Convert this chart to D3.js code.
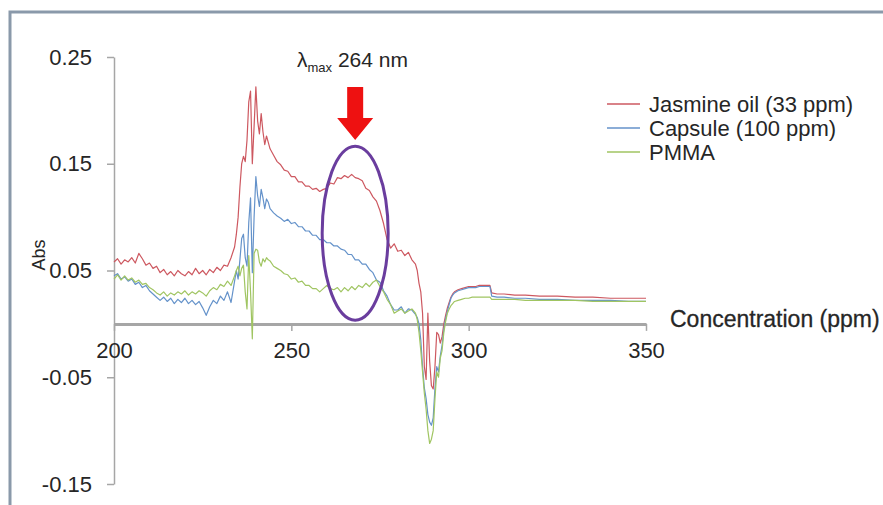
<!DOCTYPE html>
<html>
<head>
<meta charset="utf-8">
<script src="https://cdn.jsdelivr.net/npm/d3@7"></script>
<style>
  body { margin: 0; background: #fff; }
  text { font-family: "Liberation Sans", Arial, sans-serif; fill: #262626; }
</style>
</head>
<body>
<div id="chart"></div>
<script>
// Wavelength (nm) and absorbance.
var wavelength = [
  200,201,202,203,204,205,206,207,208,209,210,211,212,213,214,215,216,217,218,219,
  220,221,222,223,224,225,226,227,228,229,230,231,232,233,234,
  234.5,235,235.5,236,236.5,237,237.5,238,238.5,239,239.5,240,240.5,241,241.5,242,242.5,243,243.5,244,245,246,
  247,248,249,250,251,252,253,254,255,256,257,258,259,260,261,262,263,264,265,266,
  267,268,269,270,271,272,273,274,275,276,277,278,279,280,281,282,283,284,285,
  285.5,286,286.5,287,287.5,288,288.5,289,289.5,290,290.5,291,291.5,292,292.5,293,293.5,294,294.5,295,295.5,296,
  297,298,299,300,301,302,303,304,305,306,306.5,308,310,313,316,320,325,330,335,340,345,350
];

var jasmine = [
  .058,.061,.056,.060,.058,.062,.057,.066,.061,.055,.057,.052,.054,.048,.051,.046,.049,.045,.050,.047,
  .045,.049,.046,.052,.047,.050,.046,.051,.048,.053,.050,.055,.054,.062,.072,
  .084,.100,.128,.150,.157,.152,.172,.208,.218,.150,.185,.222,.190,.178,.197,.180,.168,.176,.170,.164,.158,.152,
  .149,.144,.143,.138,.138,.133,.133,.129,.129,.126,.127,.124,.126,.127,.132,.131,.137,.136,.139,.137,
  .140,.137,.136,.134,.127,.125,.119,.115,.106,.094,.079,.071,.075,.068,.069,.064,.067,.060,.056,
  .050,.038,.030,.010,-.040,-.052,.010,-.035,-.058,-.061,-.040,-.008,-.010,-.018,-.012,.000,.008,.015,.020,.025,.028,.030,
  .032,.033,.034,.035,.035,.035,.036,.036,.036,.036,.029,.028,.028,.027,.027,.026,.026,.025,.025,.024,.024,.024
];

var capsule = [
  .045,.047,.042,.044,.040,.042,.037,.039,.034,.036,.031,.028,.025,.022,.025,.021,.024,.019,.023,.020,
  .024,.019,.022,.018,.021,.015,.008,.016,.022,.019,.026,.022,.030,.020,.040,
  .050,.042,.060,.080,.084,.062,.054,.095,.118,.048,.100,.138,.120,.110,.126,.118,.108,.117,.114,.108,.104,.101,
  .099,.096,.098,.094,.095,.091,.091,.087,.087,.083,.083,.079,.079,.076,.076,.073,.073,.070,.069,.065,
  .065,.060,.060,.056,.056,.051,.048,.041,.039,.031,.026,.018,.013,.013,.016,.010,.014,.013,.009,
  .006,.000,-.015,-.040,-.060,-.070,-.085,-.092,-.095,-.088,-.060,-.040,-.045,-.030,-.020,-.005,.005,.012,.018,.024,.027,.029,
  .031,.032,.033,.034,.034,.034,.035,.035,.035,.035,.026,.025,.025,.024,.024,.023,.023,.022,.022,.022,.021,.021
];

var pmma = [
  .042,.046,.041,.045,.041,.043,.039,.041,.037,.038,.034,.032,.029,.027,.030,.026,.029,.027,.030,.028,
  .031,.027,.030,.028,.031,.029,.026,.031,.034,.032,.037,.035,.040,.036,.045,
  .050,.054,.045,.052,.055,.030,.014,.064,.030,-.014,.066,.070,.069,.058,.054,.061,.058,.062,.060,.059,.054,.052,
  .050,.047,.046,.042,.043,.039,.040,.036,.036,.033,.033,.030,.033,.036,.033,.032,.034,.030,.034,.031,
  .035,.032,.036,.034,.038,.035,.039,.041,.035,.030,.023,.018,.010,.012,.014,.010,.012,.014,.010,
  .004,-.008,-.025,-.045,-.065,-.080,-.100,-.112,-.108,-.100,-.070,-.045,-.050,-.032,-.025,-.008,.002,.010,.014,.017,.019,.021,
  .022,.023,.024,.024,.025,.025,.025,.025,.025,.025,.023,.023,.023,.023,.022,.022,.022,.022,.021,.021,.021,.021
];

var seriesNames = ["Jasmine oil (33 ppm)", "Capsule (100 ppm)", "PMMA"];
var seriesColors = ["#cd5860", "#6492ca", "#a0c562"];
var xTicks = [200, 250, 300, 350];
var yTicks = [0.25, 0.15, 0.05, -0.05, -0.15];
var peakWavelength = 268;   // where the circled band sits

// Setup the svg.
var svg = d3.select("#chart").append("svg")
  .attr("width", 883)
  .attr("height", 505);

// Frame of the pasted figure.
svg.append("path")
  .attr("d", "M10,505V12H883")
  .attr("fill", "none")
  .attr("stroke", "#8a99aa")
  .attr("stroke-width", 3);

var xScale = d3.scaleLinear().domain([200, 350]).range([114, 646]);
var yScale = d3.scaleLinear().domain([-0.15, 0.25]).range([484, 57]);

// y-axis on the left.
var yAxis = svg.append("g")
  .attr("transform", "translate(" + xScale(200) + ",0)")
  .call(d3.axisLeft(yScale)
    .tickValues(yTicks)
    .tickSize(7)
    .tickSizeOuter(0)
    .tickPadding(15)
    .tickFormat(function(d) { return d.toFixed(2); }));
yAxis.select(".domain").attr("stroke", "#a6a6a6").attr("stroke-width", 1.5);
yAxis.selectAll(".tick line").attr("stroke", "#a6a6a6").attr("stroke-width", 1.5);
yAxis.selectAll(".tick text").style("font-size", "22px").style("font-family", "Liberation Sans, Arial, sans-serif").attr("fill", "#262626");

// x-axis crossing at zero.
var xAxis = svg.append("g")
  .attr("transform", "translate(0," + yScale(0) + ")")
  .call(d3.axisBottom(xScale)
    .tickValues(xTicks)
    .tickSize(7)
    .tickSizeOuter(0)
    .tickPadding(12)
    .tickFormat(d3.format("d")));
xAxis.select(".domain").attr("stroke", "#a6a6a6").attr("stroke-width", 3);
xAxis.selectAll(".tick line").attr("stroke", "#a6a6a6").attr("stroke-width", 1.5);
xAxis.selectAll(".tick text").style("font-size", "22px").style("font-family", "Liberation Sans, Arial, sans-serif").attr("fill", "#262626");

// Axis titles.
svg.append("text")
  .attr("x", 670)
  .attr("y", 327)
  .style("font-size", "23px")
  .attr("stroke", "#262626")
  .attr("stroke-width", 0.3)
  .text("Concentration (ppm)");

svg.append("text")
  .attr("transform", "translate(45,255) rotate(-90)")
  .style("text-anchor", "middle")
  .style("font-size", "18px")
  .text("Abs");

// Spectra.
var series = [jasmine, capsule, pmma].map(function(values, i) {
  return {
    name: seriesNames[i],
    color: seriesColors[i],
    points: wavelength.map(function(w, j) { return [w, values[j]]; })
  };
});

var line = d3.line()
  .x(function(d) { return xScale(d[0]); })
  .y(function(d) { return yScale(d[1]); });

svg.append("g").selectAll("path")
  .data(series)
  .enter().append("path")
  .attr("fill", "none")
  .attr("stroke", function(d) { return d.color; })
  .attr("stroke-width", 1.2)
  .attr("stroke-linejoin", "round")
  .attr("d", function(d) { return line(d.points); });

// Legend.
var legend = svg.append("g").attr("transform", "translate(607,104)");
var rows = legend.selectAll("g")
  .data(series)
  .enter().append("g")
  .attr("transform", function(d, i) { return "translate(0," + (i * 24) + ")"; });
rows.append("line")
  .attr("x1", 0).attr("x2", 33)
  .attr("stroke", function(d) { return d.color; })
  .attr("stroke-width", 1.5);
rows.append("text")
  .attr("x", 42)
  .attr("dy", "0.35em")
  .style("font-size", "22px")
  .text(function(d) { return d.name; });

// Annotation: circled band with arrow and label.
var cx = xScale(peakWavelength);
svg.append("ellipse")
  .attr("cx", cx)
  .attr("cy", yScale(0.085))
  .attr("rx", 33)
  .attr("ry", 87)
  .attr("fill", "none")
  .attr("stroke", "#6a3d9e")
  .attr("stroke-width", 3);

svg.append("path")
  .attr("d", "M" + (cx - 8) + ",87H" + (cx + 8) + "V118H" + (cx + 18) + "L" + cx + ",140L" + (cx - 18) + ",118H" + (cx - 8) + "Z")
  .attr("fill", "#ee1111");

var lambda = svg.append("text")
  .attr("x", 297)
  .attr("y", 67)
  .style("font-size", "21px");
lambda.append("tspan").text("λ");
lambda.append("tspan").attr("dy", 5).style("font-size", "13px").text("max");
lambda.append("tspan").attr("dy", -5).text(" 264 nm");
</script>
</body>
</html>
